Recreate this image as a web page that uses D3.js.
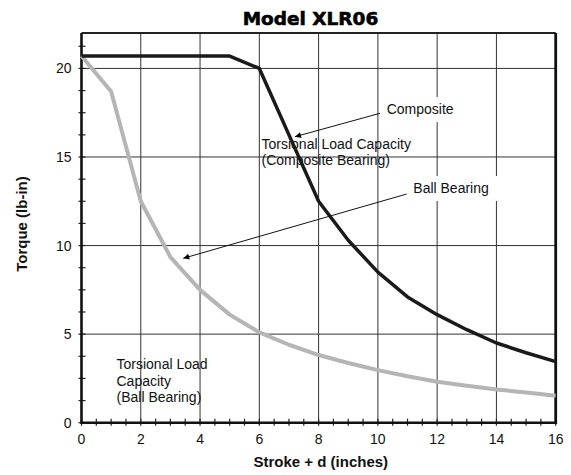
<!DOCTYPE html>
<html><head><meta charset="utf-8">
<script src="https://cdn.jsdelivr.net/npm/d3@7"></script>
<style>body{margin:0;background:#fff}svg{display:block}text{font-family:"Liberation Sans",Arial,sans-serif}</style>
</head><body><svg id="c" width="571" height="475"></svg>
<script>
const title = "Model XLR06";
const xLabel = "Stroke + d (inches)";
const yLabel = "Torque (lb-in)";
const xTicks = [0,2,4,6,8,10,12,14,16];
const yTicks = [0,5,10,15,20];
const compositeX = [0,5,6,7,8,9,10,11,12,13,14,15,16];
const compositeY = [20.7,20.7,20.0,16.25,12.5,10.3,8.5,7.1,6.1,5.25,4.5,3.95,3.45];
const ballX = [0,1,2,3,4,5,6,7,8,9,10,11,12,13,14,15,16];
const ballY = [20.7,18.7,12.5,9.35,7.5,6.1,5.1,4.4,3.82,3.37,2.97,2.62,2.31,2.08,1.88,1.7,1.52];
const annCompositeLines = ["Torsional Load Capacity","(Composite Bearing)"];
const annBallLines = ["Torsional Load","Capacity","(Ball Bearing)"];

const svg = d3.select("#c");
const L=81.5, R=555.7, T=33, B=422.7;
const x = d3.scaleLinear().domain([0,16]).range([L,R]);
const y = d3.scaleLinear().domain([0,22]).range([B,T]);

const defs = svg.append("defs");
defs.append("marker").attr("id","ah").attr("viewBox","0 0 10 10").attr("refX",10).attr("refY",5)
  .attr("markerWidth",8).attr("markerHeight",6).attr("markerUnits","userSpaceOnUse").attr("orient","auto")
  .append("path").attr("d","M0,0L10,5L0,10Z").attr("fill","#000");

// grid
const g = svg.append("g");
g.selectAll(".vg").data(xTicks.slice(1,-1)).join("line")
  .attr("x1",d=>x(d)).attr("x2",d=>x(d)).attr("y1",T).attr("y2",B)
  .attr("stroke","#333").attr("stroke-width",1);
g.selectAll(".hg").data(yTicks.slice(1)).join("line")
  .attr("x1",L).attr("x2",R).attr("y1",d=>y(d)).attr("y2",d=>y(d))
  .attr("stroke","#333").attr("stroke-width",1);

// minor ticks
const yMinor = d3.range(0,22.01,1.25);
g.selectAll(".ymt").data(yMinor).join("line")
  .attr("x1",L-3).attr("x2",L+4).attr("y1",d=>y(d)).attr("y2",d=>y(d))
  .attr("stroke","#222").attr("stroke-width",1.2);
const xMinor = d3.range(0,16.01,0.5);
g.selectAll(".xmt").data(xMinor).join("line")
  .attr("x1",d=>x(d)).attr("x2",d=>x(d)).attr("y1",B-4).attr("y2",B+3)
  .attr("stroke","#222").attr("stroke-width",1.2);

// frame
svg.append("line").attr("x1",L).attr("x2",R).attr("y1",T).attr("y2",T).attr("stroke","#222").attr("stroke-width",1.8);
svg.append("line").attr("x1",R).attr("x2",R).attr("y1",T).attr("y2",B).attr("stroke","#111").attr("stroke-width",2.8);
svg.append("line").attr("x1",L).attr("x2",L).attr("y1",T).attr("y2",B+1).attr("stroke","#111").attr("stroke-width",2.6);
svg.append("line").attr("x1",L-1).attr("x2",R+1.4).attr("y1",B).attr("y2",B).attr("stroke","#111").attr("stroke-width",2.6);

// tick labels
svg.selectAll(".xtl").data(xTicks).join("text")
  .attr("x",d=>x(d)).attr("y",B+21).attr("text-anchor","middle").attr("font-size",14).attr("fill","#111").text(d=>d);
svg.selectAll(".ytl").data(yTicks).join("text")
  .attr("x",L-10).attr("y",d=>y(d)+5).attr("text-anchor","end").attr("font-size",14).attr("fill","#111").text(d=>d);

// annotation text (grid shows through)
const a1 = svg.append("text").attr("font-size",14).attr("fill","#111");
annCompositeLines.forEach((t,i)=>a1.append("tspan").attr("x",261.5).attr("y",148.5+i*16.7).text(t));
const a2 = svg.append("text").attr("font-size",14).attr("fill","#111");
annBallLines.forEach((t,i)=>a2.append("tspan").attr("x",116.5).attr("y",369+i*16.5).text(t));

// series
const line = d3.line().x(d=>x(d[0])).y(d=>y(d[1]));
svg.append("path").datum(d3.zip(ballX,ballY)).attr("d",line).attr("fill","none")
  .attr("stroke","#b5b5b5").attr("stroke-width",4).attr("stroke-linejoin","round");
svg.append("path").datum(d3.zip(compositeX,compositeY)).attr("d",line).attr("fill","none")
  .attr("stroke","#1a1a1a").attr("stroke-width",3.5).attr("stroke-linejoin","round");

// labels with white boxes
svg.append("rect").attr("x",380).attr("y",97).attr("width",82).attr("height",25).attr("fill","#fff");
svg.append("text").attr("x",386.7).attr("y",114).attr("font-size",14).attr("fill","#111").text("Composite");
svg.append("rect").attr("x",406).attr("y",176).attr("width",94).attr("height",25).attr("fill","#fff");
svg.append("text").attr("x",413.3).attr("y",193).attr("font-size",14).attr("fill","#111").text("Ball Bearing");

svg.append("line").attr("x1",380).attr("y1",113.3).attr("x2",295).attr("y2",136.7)
  .attr("stroke","#111").attr("stroke-width",1).attr("marker-end","url(#ah)");
svg.append("line").attr("x1",406.7).attr("y1",194).attr("x2",183.3).attr("y2",258.3)
  .attr("stroke","#111").attr("stroke-width",1).attr("marker-end","url(#ah)");

// titles
svg.append("text").attr("x",310.5).attr("y",24.5).attr("text-anchor","middle")
  .style("font-family","'DejaVu Sans',sans-serif").style("font-weight","bold").style("font-size","18.5px")
  .attr("fill","#000").attr("stroke","#000").attr("stroke-width",0.6).text(title);
svg.append("text").attr("x",320.8).attr("y",467).attr("text-anchor","middle")
  .attr("font-weight","bold").attr("font-size",15).attr("fill","#111").text(xLabel);
svg.append("text").attr("transform","translate(26.5,224) rotate(-90)").attr("text-anchor","middle")
  .attr("font-weight","bold").attr("font-size",15).attr("fill","#111").text(yLabel);
</script></body></html>
